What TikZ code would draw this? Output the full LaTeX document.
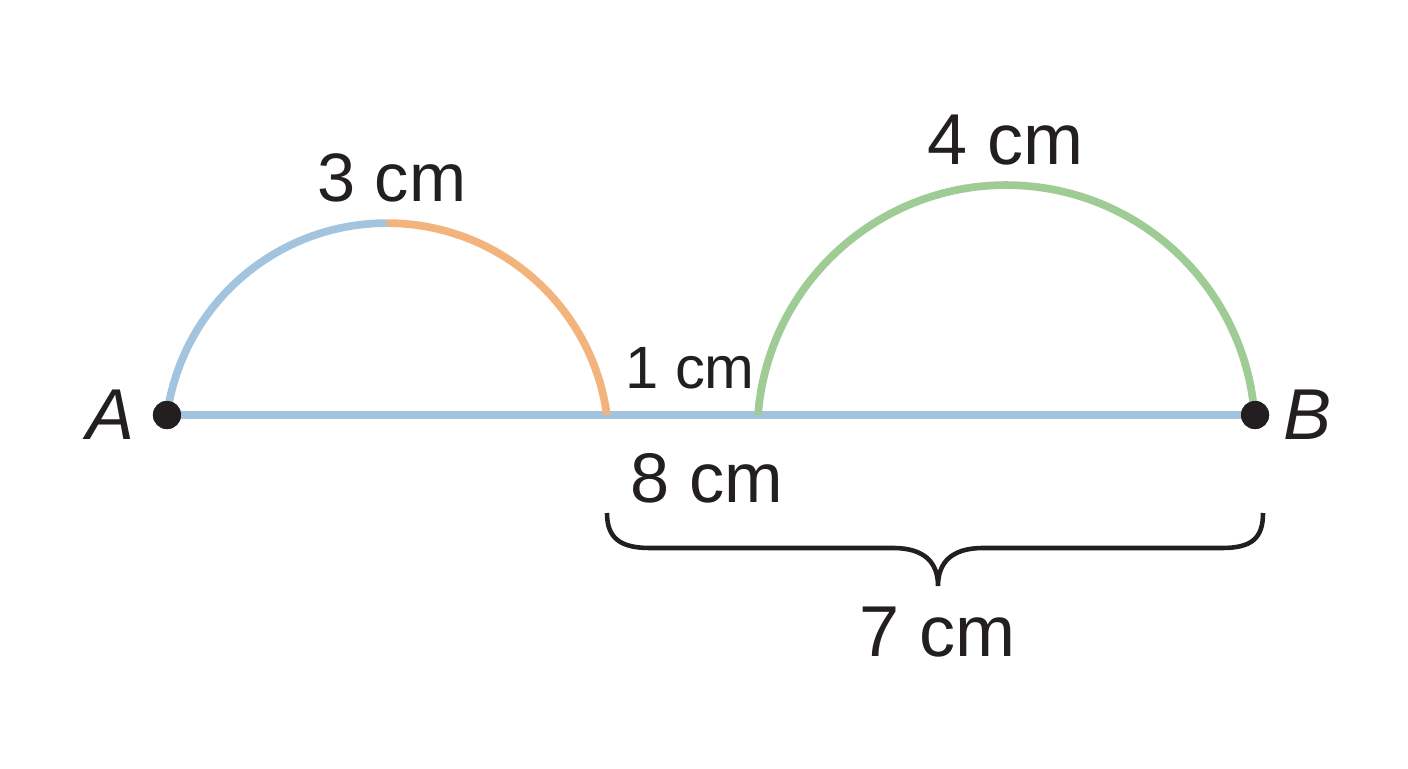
\documentclass[tikz,border=0pt]{standalone}
\usepackage{fontspec}
\setmainfont{Liberation Sans}
\usepackage{tikz}

\definecolor{segblue}{HTML}{A3C4DE}
\definecolor{segorange}{HTML}{F2B47C}
\definecolor{seggreen}{HTML}{9FCB95}
\definecolor{ink}{HTML}{231F20}
\newcommand{\lbl}[1]{\fontsize{#1}{#1}\selectfont}

\begin{document}
\begin{tikzpicture}[x=0.02cm, y=0.02cm,
	dot/.style={circle, fill=ink, inner sep=0pt, minimum size=16pt},
	seg/.style={line width=4.4pt},
	brace/.style={draw=ink, line width=2.6pt},
	txt/.style={text=ink, inner sep=0pt}]
\useasboundingbox (0,0) rectangle (1408,768);
\node [dot] (A) at (167,353) {};
\node [dot] (B) at (1255,353) {};
\coordinate (P) at (607,353);
\coordinate (Q) at (758,353);
\draw[seg, segblue] (A.center) -- (B.center);
\draw[seg, segblue] (A.center) arc[start angle=172.2, end angle=90, radius=222] coordinate (T);
\draw[seg, segorange] (T) arc[start angle=90, end angle=7.8, radius=222];
\draw[seg, seggreen] (Q) arc[start angle=175.6, end angle=4.4, radius=249];
\node [dot] at (A) {};
\node [dot] at (B) {};
% brace under the right part
\coordinate (E1) at (607,255);
\coordinate (E2) at (1263,255);
\coordinate (tip) at (938,182);
\draw[brace] (E1) .. controls (607,230) and (620,220) .. (650,220) -- (893,220)
	.. controls (925,220) and (938,205) .. (tip)
	.. controls (938,205) and (951,220) .. (983,220) -- (1222,220)
	.. controls (1252,220) and (1263,230) .. (E2);
\node[txt, left=18pt] at (A) {\lbl{41}\itshape A};
\node[txt, right=16pt] at (B) {\lbl{41}\itshape B};
\node[txt] (l3) at (392,590) {\lbl{39}3 cm};
\node[txt] (l4) at (1006,628) {\lbl{41}4 cm};
\node[txt] (l1) at (690,400) {\lbl{34}1 cm};
\node[txt] (l8) at (707,290) {\lbl{40}8 cm};
\node[txt] (l7) at (938,136) {\lbl{41}7 cm};
\end{tikzpicture}
\end{document}
